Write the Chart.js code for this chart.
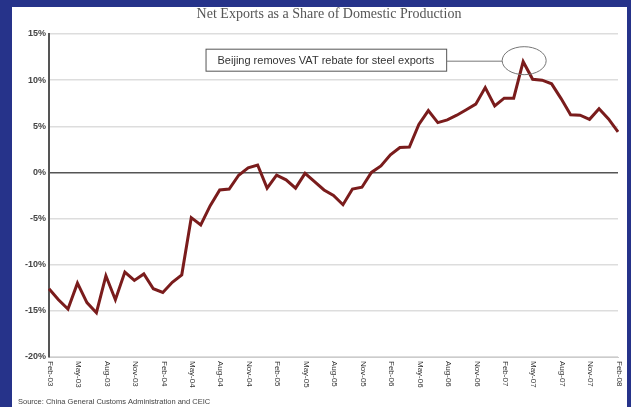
<!DOCTYPE html>
<html>
<head>
<meta charset="utf-8">
<script src="https://cdn.jsdelivr.net/npm/chart.js@4"></script>
<style>
  html, body { margin: 0; padding: 0; background: #26338a; }
  #wrap { width: 631px; height: 407px; }
</style>
</head>
<body>
<div id="wrap"><canvas id="c" width="631" height="407"></canvas></div>
<script>
const months = [
  'Feb-03','Mar-03','Apr-03','May-03','Jun-03','Jul-03','Aug-03','Sep-03','Oct-03','Nov-03','Dec-03',
  'Jan-04','Feb-04','Mar-04','Apr-04','May-04','Jun-04','Jul-04','Aug-04','Sep-04','Oct-04','Nov-04','Dec-04',
  'Jan-05','Feb-05','Mar-05','Apr-05','May-05','Jun-05','Jul-05','Aug-05','Sep-05','Oct-05','Nov-05','Dec-05',
  'Jan-06','Feb-06','Mar-06','Apr-06','May-06','Jun-06','Jul-06','Aug-06','Sep-06','Oct-06','Nov-06','Dec-06',
  'Jan-07','Feb-07','Mar-07','Apr-07','May-07','Jun-07','Jul-07','Aug-07','Sep-07','Oct-07','Nov-07','Dec-07',
  'Jan-08','Feb-08'
];

// net exports / domestic production, %
const netExportShare = [
  -12.6, -13.8, -14.8, -12.0, -14.1, -15.2, -11.2, -13.8, -10.8, -11.7, -11.0,
  -12.6, -13.0, -11.9, -11.1, -4.9, -5.7, -3.6, -1.9, -1.8, -0.3, 0.5, 0.8,
  -1.7, -0.3, -0.8, -1.7, -0.1, -1.0, -1.9, -2.5, -3.5, -1.8, -1.6, 0.0,
  0.7, 1.9, 2.7, 2.75, 5.2, 6.7, 5.4, 5.7, 6.2, 6.8, 7.4, 9.2,
  7.2, 8.05, 8.05, 12.0, 10.1, 10.0, 9.6, 8.0, 6.25, 6.2, 5.75, 6.9,
  5.8, 4.4
];

const yTicks = [-20, -15, -10, -5, 0, 5, 10, 15];
const titleText = 'Net Exports as a Share of Domestic Production';
const noteText = 'Beijing removes VAT rebate for steel exports';
const noteIndex = 50;   // Apr-07 spike
const sourceText = 'Source: China General Customs Administration and CEIC';

const frame = {
  id: 'frame',
  beforeDraw(chart) {
    const ctx = chart.ctx;
    ctx.save();
    ctx.fillStyle = '#26338a';
    ctx.fillRect(0, 0, chart.width, chart.height);
    ctx.fillStyle = '#ffffff';
    ctx.fillRect(12, 7, 615, 400);
    ctx.fillStyle = '#555';
    ctx.font = '14px "Liberation Serif", serif';
    ctx.textAlign = 'center';
    ctx.textBaseline = 'middle';
    ctx.fillText(titleText, 329, 14);
    ctx.restore();
  },
  afterDraw(chart) {
    const ctx = chart.ctx;
    const x = chart.scales.x, y = chart.scales.y;
    ctx.save();
    // month labels, every quarter, reading downwards
    ctx.fillStyle = '#333';
    ctx.font = '8px "Liberation Sans", Arial, sans-serif';
    ctx.textAlign = 'left';
    ctx.textBaseline = 'middle';
    months.forEach((m, i) => {
      if (i % 3) return;
      ctx.save();
      ctx.translate(x.getPixelForValue(i) + 1, y.bottom + 4);
      ctx.rotate(Math.PI / 2);
      ctx.fillText(m, 0, 0);
      ctx.restore();
    });
    // callout
    const cx = x.getPixelForValue(noteIndex) + 1;
    const cy = y.getPixelForValue(12) - 1;
    ctx.strokeStyle = '#777';
    ctx.lineWidth = 1;
    ctx.beginPath();
    ctx.ellipse(cx, cy, 22, 14, 0, 0, Math.PI * 2);
    ctx.stroke();
    ctx.font = '11px "Liberation Sans", Arial, sans-serif';
    const tw = ctx.measureText(noteText).width;
    const bx1 = cx - 22 - 56, bx0 = bx1 - tw - 24;
    ctx.strokeStyle = '#555';
    ctx.strokeRect(bx0 + 0.5, cy - 11.5, bx1 - bx0, 22);
    ctx.strokeStyle = '#777';
    ctx.beginPath();
    ctx.moveTo(bx1, cy + 0.5);
    ctx.lineTo(cx - 22, cy + 0.5);
    ctx.stroke();
    ctx.fillStyle = '#333';
    ctx.textAlign = 'left';
    ctx.fillText(noteText, bx0 + 12, cy);
    // source line
    ctx.font = '7.5px "Liberation Sans", Arial, sans-serif';
    ctx.fillStyle = '#444';
    ctx.textBaseline = 'alphabetic';
    ctx.fillText(sourceText, 18, 404);
    ctx.restore();
  }
};

new Chart(document.getElementById('c'), {
  type: 'line',
  data: {
    labels: months,
    datasets: [{
      data: netExportShare,
      borderColor: '#7a1c1c',
      borderWidth: 3,
      pointRadius: 0,
      tension: 0,
      borderJoinStyle: 'miter'
    }]
  },
  options: {
    responsive: false,
    animation: false,
    layout: { padding: { top: 34, right: 13, left: 0, bottom: 0 } },
    plugins: { legend: { display: false }, tooltip: { enabled: false } },
    scales: {
      x: {
        offset: false,
        grid: { display: false, drawTicks: false },
        border: { color: '#ccc', width: 1 },
        ticks: { display: false },
        afterFit: s => { s.height = 50; }
      },
      y: {
        min: -20, max: 15,
        afterBuildTicks: s => { s.ticks = yTicks.map(v => ({ value: v })); },
        grid: {
          drawTicks: false,
          color: c => c.tick && c.tick.value === 0 ? '#555' : '#ddd',
          lineWidth: 1.5
        },
        border: { color: '#555', width: 2 },
        ticks: {
          padding: 3,
          color: '#444',
          font: { family: '"Liberation Sans", Arial, sans-serif', size: 9, weight: 'bold' },
          callback: v => v + '%'
        },
        afterFit: s => { s.width = 49; }
      }
    }
  },
  plugins: [frame]
});
</script>
</body>
</html>
